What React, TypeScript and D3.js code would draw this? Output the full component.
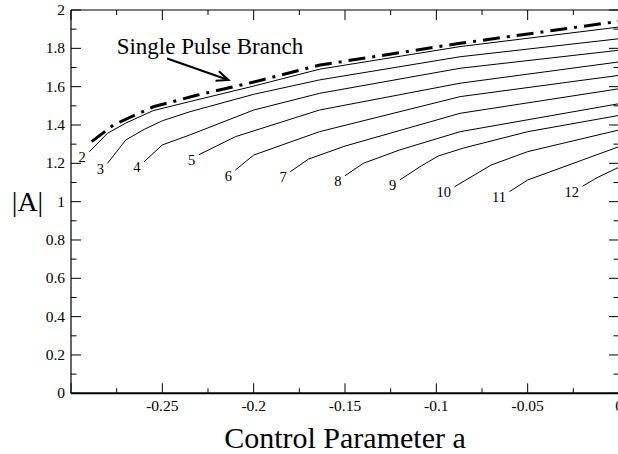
import React from "react";
import * as d3 from "d3";

// |A| versus control parameter a for the single-pulse branch and the n-pulse branches
const singlePulseBranch: [number, number][] = [
  [-0.2887, 1.313], [-0.2768, 1.4], [-0.2549, 1.495], [-0.2312, 1.555],
  [-0.2, 1.624], [-0.1637, 1.713], [-0.087, 1.826], [0, 1.941],
];
const branch2: [number, number][] = [
  [-0.29, 1.26], [-0.28, 1.357], [-0.27, 1.41], [-0.255, 1.475], [-0.235, 1.522],
  [-0.2, 1.603], [-0.164, 1.691], [-0.087, 1.809], [0, 1.911],
];
const branch3: [number, number][] = [
  [-0.28, 1.2], [-0.27, 1.322], [-0.26, 1.377], [-0.25, 1.422], [-0.235, 1.469],
  [-0.2, 1.56], [-0.164, 1.635], [-0.087, 1.756], [0, 1.85],
];
const branch4: [number, number][] = [
  [-0.26, 1.208], [-0.25, 1.296], [-0.235, 1.348], [-0.2, 1.478],
  [-0.164, 1.565], [-0.087, 1.696], [0, 1.79],
];
const branch5: [number, number][] = [
  [-0.23, 1.245], [-0.21, 1.339], [-0.164, 1.478], [-0.087, 1.618], [0, 1.729],
];
const branch6: [number, number][] = [
  [-0.21, 1.165], [-0.2, 1.243], [-0.164, 1.365], [-0.087, 1.548], [0, 1.659],
];
const branch7: [number, number][] = [
  [-0.18, 1.156], [-0.17, 1.222], [-0.15, 1.29], [-0.087, 1.461], [0, 1.589],
];
const branch8: [number, number][] = [
  [-0.15, 1.135], [-0.14, 1.2], [-0.12, 1.27], [-0.087, 1.365], [0, 1.511],
];
const branch9: [number, number][] = [
  [-0.12, 1.113], [-0.109, 1.182], [-0.099, 1.238], [-0.085, 1.28], [-0.05, 1.365], [0, 1.45],
];
const branch10: [number, number][] = [
  [-0.09, 1.078], [-0.07, 1.191], [-0.05, 1.261], [0, 1.374],
];
const branch11: [number, number][] = [
  [-0.06, 1.052], [-0.05, 1.113], [0, 1.287],
];
const branch12: [number, number][] = [
  [-0.02, 1.08], [-0.012, 1.125], [0, 1.18],
];

const branchLabels = ["2", "3", "4", "5", "6", "7", "8", "9", "10", "11", "12"];
const branches = [
  branch2, branch3, branch4, branch5, branch6, branch7,
  branch8, branch9, branch10, branch11, branch12,
];

const xMajorTicks = [-0.3, -0.25, -0.2, -0.15, -0.1, -0.05, 0];
const xMinorTicks = [-0.275, -0.225, -0.175, -0.125, -0.075, -0.025];
const xTickLabels = [-0.25, -0.2, -0.15, -0.1, -0.05, 0];
const yMajorTicks = [0, 0.2, 0.4, 0.6, 0.8, 1, 1.2, 1.4, 1.6, 1.8, 2];
const yMinorTicks = [0.1, 0.3, 0.5, 0.7, 0.9, 1.1, 1.3, 1.5, 1.7, 1.9];

const annotationText = "Single Pulse Branch";
const annotationAt: [number, number] = [-0.275, 1.773];
const arrowFrom: [number, number] = [-0.2474, 1.747];
const arrowTo: [number, number] = [-0.2138, 1.635];

const W = 618;
const H = 454;
const plot = { left: 71, right: 619, top: 10, bottom: 393.3 };
const FONT = "'Liberation Serif', 'Times New Roman', serif";

export default function App() {
  const x = d3.scaleLinear().domain([-0.3, 0]).range([plot.left, plot.right]);
  const y = d3.scaleLinear().domain([0, 2]).range([plot.bottom, plot.top]);
  const line = d3
    .line<[number, number]>()
    .x((d) => x(d[0]))
    .y((d) => y(d[1]));

  // open arrow head at the annotation tip
  const ax0 = x(arrowFrom[0]);
  const ay0 = y(arrowFrom[1]);
  const ax1 = x(arrowTo[0]);
  const ay1 = y(arrowTo[1]);
  const ang = Math.atan2(ay1 - ay0, ax1 - ax0);
  const headLen = 13;
  const headAng = (23 * Math.PI) / 180;
  const b1 = [ax1 - headLen * Math.cos(ang - headAng), ay1 - headLen * Math.sin(ang - headAng)];
  const b2 = [ax1 - headLen * Math.cos(ang + headAng), ay1 - headLen * Math.sin(ang + headAng)];

  return (
    <div style={{ position: "absolute", left: 0, top: 0 }}>
      <svg width={W} height={H} style={{ display: "block", background: "#fff" }} fontFamily={FONT}>
        <rect width={W} height={H} fill="#fff" />

        {/* frame */}
        <line x1={plot.left} x2={plot.left} y1={plot.top} y2={plot.bottom} stroke="#000" strokeWidth={1.2} />
        <line x1={plot.left} x2={plot.right} y1={plot.top} y2={plot.top} stroke="#000" strokeWidth={1.2} />
        <line x1={plot.right} x2={plot.right} y1={plot.top} y2={plot.bottom} stroke="#000" strokeWidth={1.2} />
        <line x1={plot.left} x2={plot.right} y1={plot.bottom} y2={plot.bottom} stroke="#000" strokeWidth={2} />

        {/* x ticks, bottom and top */}
        {xMajorTicks.map((t) => (
          <g key={"xM" + t}>
            <line x1={x(t)} x2={x(t)} y1={plot.bottom} y2={plot.bottom - 10} stroke="#000" strokeWidth={1} />
            <line x1={x(t)} x2={x(t)} y1={plot.top} y2={plot.top + 10} stroke="#000" strokeWidth={1} />
          </g>
        ))}
        {xMinorTicks.map((t) => (
          <g key={"xm" + t}>
            <line x1={x(t)} x2={x(t)} y1={plot.bottom} y2={plot.bottom - 5} stroke="#000" strokeWidth={1} />
            <line x1={x(t)} x2={x(t)} y1={plot.top} y2={plot.top + 5} stroke="#000" strokeWidth={1} />
          </g>
        ))}
        {xTickLabels.map((t) => (
          <text key={"xl" + t} x={x(t)} y={plot.bottom + 18} fontSize={15.5} textAnchor="middle" fill="#000">
            {String(t)}
          </text>
        ))}

        {/* y ticks, left and right */}
        {yMajorTicks.map((t) => (
          <g key={"yM" + t}>
            <line x1={plot.left} x2={plot.left + 10} y1={y(t)} y2={y(t)} stroke="#000" strokeWidth={1} />
            <line x1={plot.right} x2={plot.right - 10} y1={y(t)} y2={y(t)} stroke="#000" strokeWidth={1} />
            <text x={plot.left - 6} y={y(t) + 5} fontSize={15.5} textAnchor="end" fill="#000">
              {String(t)}
            </text>
          </g>
        ))}
        {yMinorTicks.map((t) => (
          <g key={"ym" + t}>
            <line x1={plot.left} x2={plot.left + 5.5} y1={y(t)} y2={y(t)} stroke="#000" strokeWidth={1} />
            <line x1={plot.right} x2={plot.right - 5.5} y1={y(t)} y2={y(t)} stroke="#000" strokeWidth={1} />
          </g>
        ))}

        {/* n-pulse branches */}
        {branches.map((b, i) => (
          <g key={"br" + i}>
            <path d={line(b) || ""} fill="none" stroke="#000" strokeWidth={1} />
            <text x={x(b[0][0]) - 3.5} y={y(b[0][1]) + 10.5} fontSize={14.5} textAnchor="end" fill="#000">
              {branchLabels[i]}
            </text>
          </g>
        ))}

        {/* single-pulse branch */}
        <path
          d={line(singlePulseBranch) || ""}
          fill="none"
          stroke="#000"
          strokeWidth={3}
          strokeDasharray="17 7 3 7"
        />

        {/* annotation */}
        <text x={x(annotationAt[0])} y={y(annotationAt[1])} fontSize={23} fill="#000">
          {annotationText}
        </text>
        <line x1={ax0} y1={ay0} x2={ax1} y2={ay1} stroke="#000" strokeWidth={2} />
        <polyline
          points={`${b1[0]},${b1[1]} ${ax1},${ay1} ${b2[0]},${b2[1]}`}
          fill="none"
          stroke="#000"
          strokeWidth={2}
        />

        {/* axis titles */}
        <text x={27.5} y={211} fontSize={28} textAnchor="middle" fill="#000">
          |A|
        </text>
        <text x={(plot.left + plot.right) / 2} y={448} fontSize={30} textAnchor="middle" fill="#000">
          Control Parameter a
        </text>
      </svg>
    </div>
  );
}
